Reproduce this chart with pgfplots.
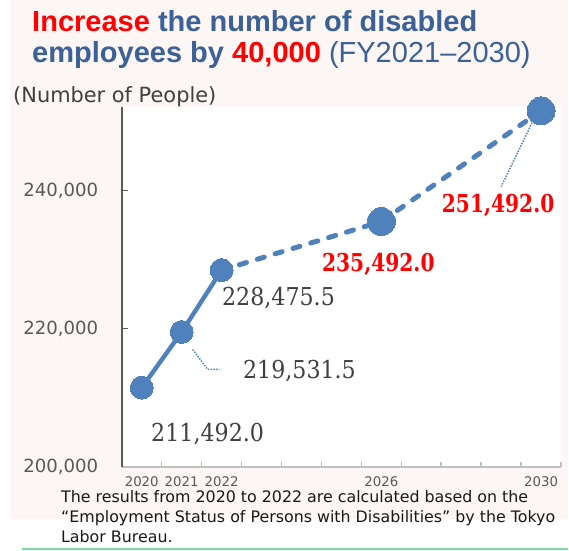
\documentclass[border=0pt]{standalone}
\usepackage{pgfplots}
\pgfplotsset{compat=1.18}
\usepackage{fontspec}
\setmainfont{Liberation Sans}
\newfontfamily\uifont{DejaVu Sans}
\newfontfamily\labfont[FakeStretch=0.9,BoldFeatures={FakeStretch=0.82}]{DejaVu Serif}

\definecolor{bgpink}{HTML}{FCF6F5}
\definecolor{ttlblue}{HTML}{3B6196}
\definecolor{lineblue}{HTML}{4F81BD}
\definecolor{lblgray}{HTML}{404040}
\definecolor{tickgray}{HTML}{595959}
\definecolor{axgray}{HTML}{BFBFBF}
\definecolor{greenline}{HTML}{7DD9A4}

\begin{document}
\begin{tikzpicture}
% page and background panel
\fill[white] (0,0) rectangle (426.75pt,413.25pt);
\fill[bgpink] (7.5pt,23.25pt) rectangle (426.75pt,413.25pt);
\draw[greenline, line width=1.5pt] (16.5pt,0.75pt) -- (426.75pt,0.75pt);

% title
\node[anchor=base west, inner sep=0pt, font=\fontsize{21.8}{24}\selectfont\bfseries]
  at (24pt,389.25pt) {\textcolor{red}{Increase} \textcolor{ttlblue}{the number of disabled}};
\node[anchor=base west, inner sep=0pt, font=\fontsize{21.8}{24}\selectfont\bfseries]
  at (24pt,366pt) {\textcolor{ttlblue}{employees by} \textcolor{red}{40,000} \textcolor{ttlblue}{\mdseries (FY2021--2030)}};

\node[anchor=base west, inner sep=0pt, font=\uifont\fontsize{15.7}{18}\selectfont, text=lblgray]
  at (9.75pt,336pt) {(Number of People)};

% footnote
\begin{scope}[every node/.style={anchor=base west, inner sep=0pt, font=\uifont\fontsize{11.9}{14}\selectfont, text=black!90}]
\node at (45.75pt,36pt) {The results from 2020 to 2022 are calculated based on the};
\node at (45.75pt,21pt) {“Employment Status of Persons with Disabilities” by the Tokyo};
\node at (45.75pt,6pt) {Labor Bureau.};
\end{scope}

\begin{axis}[
  at={(91.5pt,62.25pt)}, anchor=south west,
  scale only axis, width=330pt, height=270.4pt,
  xmin=2019.5, xmax=2030.5, ymin=200000, ymax=252000,
  axis x line=bottom, axis y line=left,
  axis line style={-},
  x axis line style={-, draw=axgray, line width=1.1pt},
  y axis line style={-, draw=tickgray, line width=1.1pt},
  xtick={2020,2021,2022,2026,2030},
  xticklabels={2020,2021,2022,2026,2030},
  minor xtick={2019.5,2020.5,...,2030.5},
  ytick={200000,220000,240000},
  yticklabels={{200,000},{220,000},{240,000}},
  scaled y ticks=false,
  tick align=inside,
  major x tick style={draw=none},
  minor x tick style={draw=axgray, line width=1.1pt},
  major y tick style={draw=tickgray, line width=1.1pt},
  minor tick length=3.75pt, major tick length=4.5pt,
  xticklabel style={font=\uifont\fontsize{10}{11}\selectfont, text=tickgray, yshift=-3.8pt},
  yticklabel style={font=\uifont\fontsize{13.6}{16}\selectfont, text=tickgray, xshift=-14.25pt},
  axis background/.style={fill=white},
  clip=false,
]
% results 2020-2022 (solid) and target path (dashed)
\addplot[lineblue, line width=3.3pt, line cap=round, mark=none] coordinates {
  (2020,211492.0) (2021,219531.5) (2022,228475.5)
};
\addplot[lineblue, line width=3.75pt, line cap=round, dash pattern=on 5.5pt off 8.5pt, mark=none] coordinates {
  (2022,228475.5) (2026,235492.0) (2030,251492.0)
};

% leader lines
\draw[lineblue, densely dotted, line width=1.1pt]
  (axis cs:2021.275,217020) -- (axis cs:2021.65,214135) -- (axis cs:2021.95,214135);
\draw[lineblue, densely dotted, line width=1.1pt]
  (axis cs:2029.775,249762) -- (axis cs:2029.0,240531);

\addplot[color=lineblue, only marks, mark=*, mark size=8.6pt, mark options={draw=lineblue, fill=lineblue, line width=0pt}] coordinates {
  (2020,211492.0) (2021,219531.5) (2022,228475.5)
};
\addplot[color=lineblue, only marks, mark=*, mark size=10.5pt, mark options={draw=lineblue, fill=lineblue, line width=0pt}] coordinates {
  (2026,235492.0) (2030,251492.0)
};

% data labels
\node[font=\labfont\fontsize{18.5}{20}\selectfont, text=lblgray] at (axis cs:2021.65,204760) {211,492.0};
\node[font=\labfont\fontsize{18.5}{20}\selectfont, text=lblgray] at (axis cs:2023.95,213847) {219,531.5};
\node[font=\labfont\fontsize{18.5}{20}\selectfont, text=lblgray] at (axis cs:2023.425,224376) {228,475.5};
\node[font=\labfont\fontsize{18.5}{20}\selectfont\bfseries, text=red] at (axis cs:2025.925,229280) {235,492.0};
\node[font=\labfont\fontsize{18.5}{20}\selectfont\bfseries, text=red] at (axis cs:2028.925,237790) {251,492.0};
\end{axis}
\end{tikzpicture}
\end{document}
